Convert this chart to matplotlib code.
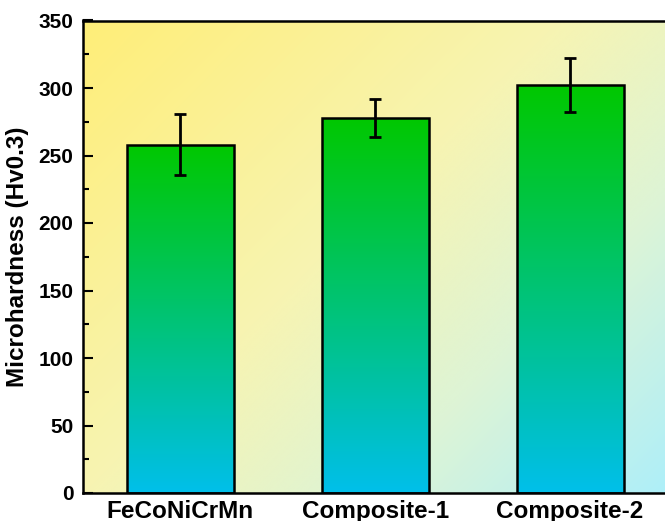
import numpy as np
import matplotlib
matplotlib.use("Agg")
import matplotlib.pyplot as plt
from matplotlib.colors import LinearSegmentedColormap

categories = ["FeCoNiCrMn", "Composite-1", "Composite-2"]
values = [258, 278, 302]
errors = [22.5, 14, 20]
yticks = [0, 50, 100, 150, 200, 250, 300, 350]

plt.rcParams['font.family'] = ['Liberation Sans', 'DejaVu Sans']
plt.rcParams['font.weight'] = 'bold'

fig = plt.figure(figsize=(6.65, 5.21), dpi=100)
ax = fig.add_axes([83/665, 1-493/521, (667.5-83)/665, (493-20.5)/521])

# background diagonal gradient
bg_cmap = LinearSegmentedColormap.from_list(
    "bg", [(0.0, "#FFEE78"), (0.45, "#F7F4B2"), (0.72, "#DDF4D6"), (1.0, "#AEEFF9")])
nx, ny = 300, 240
X, Y = np.meshgrid(np.linspace(0, 1, nx), np.linspace(0, 1, ny))
T = (X * 1.23 + Y) / 2.23
ax.imshow(T, cmap=bg_cmap, extent=[0, 1, 0, 1], transform=ax.transAxes,
          origin='upper', aspect='auto', zorder=0, interpolation='bicubic')

x = np.arange(len(categories))
bars = ax.bar(x, values, width=0.55, facecolor='none', edgecolor='black',
              linewidth=1.8, zorder=3)
bar_cmap = LinearSegmentedColormap.from_list("bar", ["#00C800", "#00BFEA"])
grad = np.linspace(0, 1, 256).reshape(-1, 1)
for b in bars:
    x0, w, h = b.get_x(), b.get_width(), b.get_height()
    im = ax.imshow(grad, cmap=bar_cmap, extent=[x0, x0 + w, 0, h],
                   origin='upper', aspect='auto', zorder=2)
    im.set_clip_path(b)

ax.errorbar(x, values, yerr=errors, fmt='none', ecolor='black', elinewidth=2,
            capsize=4.2, capthick=2, zorder=4)

ax.set_xlim(-0.5, 2.5)
ax.set_ylim(0, 350)
ax.set_yticks(yticks)
ax.set_yticks(np.arange(25, 350, 50), minor=True)
ax.set_xticks(x)
ax.set_xticklabels(categories, fontsize=17.5, fontweight='bold')
ax.tick_params(axis='y', which='major', direction='in', length=7.5, width=1.5,
               labelsize=15, pad=7)
ax.tick_params(axis='y', which='minor', direction='in', length=4.5, width=1.5)
ax.tick_params(axis='x', length=0, pad=5)
for lab in ax.get_yticklabels():
    lab.set_fontweight('bold')
ax.set_ylabel("Microhardness (Hv0.3)", fontsize=17.5, fontweight='bold', labelpad=7)
for s in ax.spines.values():
    s.set_linewidth(1.8)
ax.spines['right'].set_visible(False)

fig.savefig("out.png", dpi=100)
